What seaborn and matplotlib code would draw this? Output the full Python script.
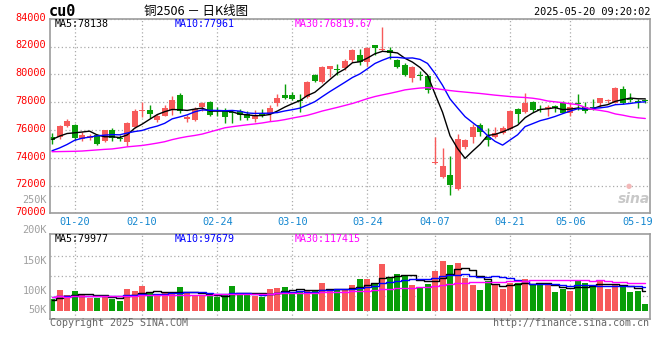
import numpy as np
import pandas as pd
import matplotlib
matplotlib.use("Agg")
import matplotlib.pyplot as plt
import matplotlib.transforms as mtransforms
from matplotlib.ticker import FixedLocator
import seaborn as sns

sns.set_theme(style="white")
plt.rcParams['font.family'] = ['DejaVu Sans Mono', 'Noto Sans CJK SC']

# daily K-line of cu0, 2025-01-15 .. 2025-05-20 (80 trading days)
opens = [75500, 75480, 76310, 76360, 75330, 75390, 75640, 75170, 76000, 75370,
         75140, 76230, 77380, 77450, 76740, 77020, 77400, 78520, 76760, 76740,
         77640, 78020, 77380, 77430, 77260, 77380, 77140, 76790, 77240, 77140,
         77900, 78500, 78480, 78120, 78400, 79930, 79450, 80360, 80380, 80480,
         81000, 81360, 80880, 82100, 81780, 81720, 81020, 80700, 79700, 79950,
         79860, 73600, 72600, 72790, 71760, 74740, 75480, 76360, 75520, 75480,
         75810, 76050, 77480, 77310, 78020, 77500, 77480, 77710, 77950, 77240,
         77880, 77620, 77600, 77950, 78080, 77950, 78950, 78170, 78050, 78120]
highs = [75790, 76330, 76760, 76450, 75880, 75690, 75740, 76000, 76170, 75620,
         76600, 77500, 78020, 77760, 77170, 77790, 78430, 78690, 77050, 77620,
         78000, 78100, 77670, 77550, 77430, 77480, 77380, 77430, 77480, 77790,
         78550, 79300, 78700, 78550, 79500, 80050, 80620, 80620, 80710, 81100,
         81830, 81830, 81980, 82120, 83400, 82000, 81130, 80780, 80580, 80240,
         79930, 75520, 74670, 74100, 75710, 75330, 76430, 76520, 76120, 76240,
         76290, 77430, 77550, 78670, 78100, 77790, 77790, 77790, 78100, 78020,
         78570, 78020, 78190, 78260, 78190, 79100, 79140, 78620, 78190, 78190]
lows = [75020, 75330, 76200, 75300, 75190, 75290, 74880, 75100, 75190, 75170,
        74820, 76170, 76950, 76880, 76570, 76980, 77070, 77190, 76600, 76640,
        77380, 77000, 77000, 76520, 76520, 76720, 76710, 76600, 76900, 76670,
        77710, 78250, 78150, 77300, 78330, 79420, 79400, 79830, 79960, 80280,
        80880, 80640, 80600, 81400, 81650, 81120, 80430, 79900, 79480, 79620,
        78620, 73580, 72550, 71290, 71670, 74620, 75050, 75570, 74860, 75400,
        75710, 76000, 76520, 77240, 77310, 77310, 77000, 77310, 77190, 77000,
        77430, 77240, 77430, 77620, 77900, 77950, 77860, 78020, 77550, 77900]
closes = [75260, 76290, 76640, 75400, 75640, 75580, 74950, 75960, 75420, 75330,
          76520, 77380, 77420, 77160, 77020, 77570, 78170, 77330, 76920, 77500,
          77900, 77100, 77330, 76960, 77210, 77080, 76840, 77020, 77000, 77600,
          78310, 78280, 78250, 78060, 79450, 79500, 80520, 80590, 80340, 80950,
          81760, 80880, 81900, 81900, 81820, 81550, 80500, 79980, 80530, 79900,
          78860, 73640, 73430, 72070, 75330, 75290, 76240, 75880, 75240, 75760,
          76170, 77380, 77140, 77950, 77430, 77450, 77620, 77550, 77240, 77620,
          77830, 77330, 77550, 78260, 78110, 79020, 77950, 78120, 78000, 78070]

# price moving averages
ma5 = [75310, 75550, 75740, 75790, 75846, 75910, 75642, 75506, 75510, 75448,
       75636, 76122, 76414, 76762, 77100, 77310, 77468, 77450, 77402, 77498,
       77564, 77350, 77350, 77358, 77300, 77136, 77084, 77022, 77030, 77108,
       77354, 77642, 77888, 78100, 78470, 78708, 79156, 79624, 80080, 80380,
       80832, 80904, 81166, 81478, 81652, 81610, 81534, 81150, 80876, 80492,
       79954, 78582, 77272, 75580, 74666, 73952, 74472, 74962, 75596, 75682,
       75858, 76086, 76338, 76880, 77214, 77470, 77518, 77600, 77458, 77496,
       77572, 77514, 77514, 77718, 77816, 78054, 78178, 78292, 78240, 78232]
ma10 = [74500, 74700, 74950, 75250, 75400, 75480, 75570, 75620, 75660, 75647,
        75773, 75882, 75960, 76136, 76274, 76473, 76795, 76932, 77082, 77299,
        77437, 77409, 77400, 77380, 77399, 77350, 77217, 77186, 77194, 77204,
        77245, 77363, 77455, 77565, 77789, 78031, 78399, 78756, 79090, 79425,
        79770, 80030, 80395, 80779, 81016, 81221, 81219, 81158, 81177, 81072,
        80782, 80058, 79211, 78228, 77579, 76953, 76527, 76117, 75588, 75174,
        74905, 75279, 75650, 76238, 76448, 76664, 76802, 76969, 77169, 77355,
        77521, 77516, 77557, 77588, 77656, 77813, 77846, 77903, 77979, 78024]
ma30 = [74430, 74440, 74450, 74460, 74480, 74520, 74560, 74600, 74630, 74700,
        74780, 74830, 74880, 74960, 75050, 75150, 75300, 75420, 75520, 75600,
        75700, 75850, 76000, 76150, 76230, 76300, 76370, 76430, 76500, 76590,
        76650, 76740, 76850, 76950, 77050, 77200, 77360, 77490, 77620, 77760,
        77900, 78070, 78250, 78400, 78520, 78630, 78750, 78880, 78950, 79010,
        79040, 78980, 78900, 78830, 78770, 78720, 78670, 78620, 78560, 78500,
        78450, 78400, 78360, 78330, 78280, 78200, 78080, 78020, 77960, 77880,
        77820, 77620, 77480, 77400, 77310, 77150, 77060, 76950, 76870, 76820]

# volume (K, as read on the volume axis) and its moving averages
volumes = [85.4, 100.8, 91.4, 99.1, 93.2, 87.2, 87.0, 91.4, 85.4, 81.3,
           102.6, 99.1, 107.9, 94.9, 93.7, 96.0, 97.0, 105.6, 94.9, 90.2,
           90.2, 92.0, 89.0, 93.7, 107.9, 94.9, 92.0, 90.2, 89.0, 103.1,
           104.9, 106.1, 97.9, 97.9, 100.3, 100.3, 112.7, 100.3, 100.3, 102.6,
           109.7, 119.8, 120.8, 113.2, 148.1, 122.0, 129.2, 127.4, 109.7, 103.8,
           111.4, 135.0, 152.5, 145.1, 149.2, 122.6, 109.7, 100.8, 117.0, 112.5,
           103.1, 114.0, 114.0, 120.0, 111.5, 109.7, 109.7, 97.9, 102.6, 99.6,
           118.5, 113.8, 109.7, 116.8, 102.6, 111.0, 109.7, 97.0, 99.6, 76.0]
vma5 = [84.0, 87.0, 90.0, 92.0, 94.0, 94.3, 91.6, 91.6, 88.8, 86.5,
        89.5, 92.0, 95.3, 97.2, 99.6, 98.3, 97.9, 97.4, 97.4, 96.7,
        95.6, 94.6, 91.3, 91.0, 94.6, 95.5, 95.5, 95.7, 94.8, 93.8,
        95.8, 98.7, 100.2, 102.0, 101.4, 100.5, 101.8, 102.3, 102.8, 103.2,
        105.1, 106.5, 110.6, 113.2, 122.3, 124.8, 126.7, 128.0, 127.3, 118.4,
        116.3, 117.5, 122.5, 129.6, 138.6, 140.9, 135.8, 125.5, 119.9, 112.5,
        108.6, 109.5, 112.1, 112.7, 112.5, 113.8, 113.0, 109.8, 106.3, 103.9,
        105.7, 106.5, 108.8, 111.7, 112.3, 110.8, 110.0, 107.4, 104.0, 98.7]
vma10 = [89.0, 89.5, 90.0, 90.5, 91.0, 91.0, 91.0, 90.6, 90.3, 90.2,
         91.9, 91.8, 93.4, 93.0, 93.1, 93.9, 94.9, 96.4, 97.3, 98.2,
         97.0, 96.2, 94.4, 94.2, 95.7, 95.5, 95.0, 93.5, 92.9, 94.2,
         95.7, 97.1, 98.0, 98.4, 97.6, 98.2, 100.2, 101.3, 102.4, 102.3,
         102.8, 104.2, 106.5, 108.0, 112.8, 115.0, 116.6, 119.3, 120.3, 120.4,
         120.5, 122.1, 125.2, 128.4, 128.5, 128.6, 126.6, 124.0, 124.7, 125.6,
         124.8, 122.7, 118.8, 116.3, 112.5, 111.2, 111.2, 110.9, 109.5, 108.2,
         109.8, 109.7, 109.3, 109.0, 108.1, 108.2, 108.2, 108.1, 107.8, 105.5]
vma30 = [89.3, 89.6, 89.4, 89.8, 90.1, 89.9, 90.3, 90.6, 90.4, 90.8,
         91.2, 91.0, 91.5, 91.8, 91.6, 92.0, 92.3, 92.6, 92.4, 92.8,
         93.0, 92.9, 93.2, 93.4, 93.3, 93.6, 93.8, 93.7, 94.0, 94.2,
         94.9, 95.0, 95.2, 95.2, 95.4, 95.9, 96.7, 97.0, 97.5, 98.2,
         98.5, 99.2, 99.6, 100.2, 102.0, 102.9, 104.0, 104.7, 105.2, 105.6,
         106.3, 107.8, 109.9, 111.6, 113.0, 113.9, 114.5, 114.8, 115.8, 116.1,
         116.0, 116.3, 116.8, 117.6, 117.9, 118.3, 118.2, 118.1, 118.2, 118.1,
         118.3, 118.1, 117.8, 117.9, 116.4, 116.0, 115.4, 114.3, 114.0, 113.1]

date_labels = ['01-20', '02-10', '02-24', '03-10', '03-24', '04-07', '04-21', '05-06', '05-19']
date_pos = [3, 12, 22, 32, 42, 51, 61, 69, 78]
price_ticks = [70000, 72000, 74000, 76000, 78000, 80000, 82000, 84000]
vol_tick_labels = ['200K', '150K', '100K', '50K']

df = pd.DataFrame({'open': opens, 'high': highs, 'low': lows, 'close': closes,
                   'vol': volumes, 'ma5': ma5, 'ma10': ma10, 'ma30': ma30,
                   'vma5': vma5, 'vma10': vma10, 'vma30': vma30})
df['idx'] = np.arange(len(df))
df['up'] = df['close'] >= df['open']

RED = '#F75A5A'
GREEN = '#089E08'
GRID = '#ABABAB'
FRAME = '#9C9C9C'
colors = np.where(df['up'], RED, GREEN)

W, H = 660, 360
fig = plt.figure(figsize=(W / 100, H / 100), dpi=100)
fig.patch.set_facecolor('white')


def fx(x):
    return x / W


def fy(y):
    return 1 - y / H


ax = fig.add_axes([fx(50), fy(213.3), fx(599.5), 194.6 / H])
axv = fig.add_axes([fx(50), fy(318.7), fx(599.5), 84.4 / H])

# candles
ax.vlines(df['idx'], df['low'], df['high'], colors=colors, linewidth=1, zorder=2)
body_bottom = np.minimum(df['open'], df['close'])
body_h = np.maximum((df['close'] - df['open']).abs(), 75)
ax.bar(df['idx'], body_h, bottom=body_bottom, width=0.8, color=colors, linewidth=0, zorder=2)

sns.lineplot(data=df, x='idx', y='ma5', ax=ax, color='black', linewidth=1, zorder=3)
sns.lineplot(data=df, x='idx', y='ma10', ax=ax, color='#0000FF', linewidth=1, zorder=3)
sns.lineplot(data=df, x='idx', y='ma30', ax=ax, color='#FF00FF', linewidth=1, zorder=3)

# volume bars start at the bottom of the bar area
vol_base = 64.2
axv.bar(df['idx'], df['vol'] - vol_base, bottom=vol_base, width=0.8, color=colors,
        linewidth=0, zorder=2)
sns.lineplot(data=df, x='idx', y='vma5', ax=axv, color='black', linewidth=1,
             drawstyle='steps-mid', zorder=3)
sns.lineplot(data=df, x='idx', y='vma10', ax=axv, color='#0000FF', linewidth=1,
             drawstyle='steps-mid', zorder=3)
sns.lineplot(data=df, x='idx', y='vma30', ax=axv, color='#FF00FF', linewidth=1,
             drawstyle='steps-mid', zorder=3)

for a in (ax, axv):
    a.set_xlim(-0.27, 79.56)
    a.set_xlabel('')
    a.set_ylabel('')
    a.set_xticks(date_pos[:-1])
    a.tick_params(axis='x', length=0, labelbottom=False)
    a.grid(axis='x', linestyle=(0, (1, 2)), color=GRID, linewidth=0.9)
    for s in a.spines.values():
        s.set_color(FRAME)
        s.set_linewidth(1.2)
    a.set_facecolor('white')

ax.set_ylim(70000, 84000)
ax.set_yticks(price_ticks)
ax.set_yticklabels([str(t) for t in price_ticks], color='#FF0000', fontsize=7.4)
ax.tick_params(axis='y', length=0, pad=3)
ax.grid(axis='y', linestyle=(0, (1, 2)), color=GRID, linewidth=0.9)
up2 = mtransforms.ScaledTranslation(0, 1.5 / 72, fig.dpi_scale_trans)
for lab in ax.get_yticklabels():
    lab.set_transform(lab.get_transform() + up2)

axv.set_ylim(50, 200)
axv.set_yticks([])
axv.yaxis.set_minor_locator(FixedLocator([90.7, 126.2, 161.6]))
axv.tick_params(axis='y', which='minor', length=0)
axv.grid(axis='y', which='minor', linestyle=(0, (1, 2)), color=GRID, linewidth=0.9)
for lab, yv in zip(vol_tick_labels, [207.6, 152.2, 99.1, 65.4]):
    axv.text(-0.005, yv, lab, transform=axv.get_yaxis_transform(), ha='right',
             va='center', color='#A0A0A0', fontsize=7.4, clip_on=False)
ax.text(-0.005, 70960, '250K', transform=ax.get_yaxis_transform(), ha='right',
        va='center', color='#A0A0A0', fontsize=7.4, clip_on=False)

# date labels between the panels
for lab, p in zip(date_labels, date_pos):
    ax.text(p, -0.043, lab, transform=ax.get_xaxis_transform(), ha='center',
            va='center', color='#1487D0', fontsize=7.4, clip_on=False)

# headers
fig.text(fx(49), fy(12), 'cu0', fontsize=11, fontweight='bold', va='center', color='black')
fig.text(fx(196), fy(11.5), '铜2506 － 日K线图', fontsize=9, va='center', ha='center',
         family=['Noto Sans CJK SC', 'DejaVu Sans'], color='black')
fig.text(fx(650), fy(12.2), '2025-05-20 09:20:02', fontsize=7.4, va='center', ha='right',
         color='black')

fig.text(fx(55), fy(24), 'MA5:78138', fontsize=7.2, va='center', color='black')
fig.text(fx(175), fy(24), 'MA10:77961', fontsize=7.2, va='center', color='#0000FF')
fig.text(fx(295), fy(24), 'MA30:76819.67', fontsize=7.2, va='center', color='#FF00FF')
fig.text(fx(55), fy(238.5), 'MA5:79977', fontsize=7.2, va='center', color='black')
fig.text(fx(175), fy(238.5), 'MA10:97679', fontsize=7.2, va='center', color='#0000FF')
fig.text(fx(295), fy(238.5), 'MA30:117415', fontsize=7.2, va='center', color='#FF00FF')

fig.text(fx(50), fy(323.3), 'Copyright 2025 SINA.COM', fontsize=7.2, va='center',
         color='#666666')
fig.text(fx(649), fy(323.3), 'http://finance.sina.com.cn', fontsize=7.2, va='center',
         ha='right', color='#666666')

# sina watermark
fig.text(fx(634), fy(199), 'sina', fontsize=10, fontweight='bold', style='italic',
         family='DejaVu Sans', ha='center', va='center', color='#C8C8C8', zorder=1)
fig.text(fx(629), fy(186), '●', fontsize=5, family='DejaVu Sans', ha='center',
         va='center', color='#F2B8B8', zorder=1)

fig.savefig('out.png', dpi=100, facecolor='white')
